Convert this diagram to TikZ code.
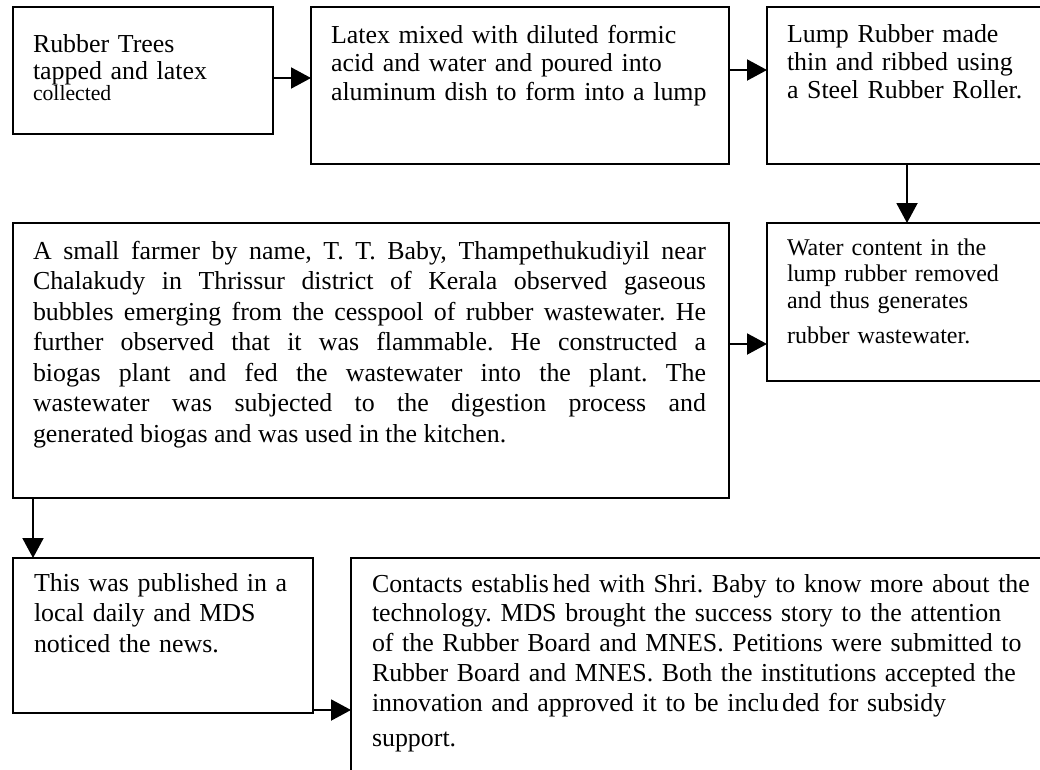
\documentclass[tikz,border=0pt]{standalone}
\usepackage{fontspec}
\setmainfont{Liberation Serif}
\usetikzlibrary{arrows.meta}
\begin{document}
\begin{tikzpicture}[x=1pt,y=-1pt,
  box/.style={draw,line width=2pt,inner sep=0pt,outer sep=0pt,anchor=north west},
  txt/.style={inner sep=0pt,outer sep=0pt,anchor=base west,align=left},
  arr/.style={line width=2pt,-{Triangle[length=20pt,width=21pt]}}]
\path[use as bounding box, clip] (0,0) rectangle (1040,769);
\fill[white] (0,0) rectangle (1040,769);
% boxes
\node[box,minimum width=260pt,minimum height=127pt] (b1) at (13,7) {};
\node[box,minimum width=418pt,minimum height=157pt] (b2) at (311,7) {};
\node[box,minimum width=293pt,minimum height=157pt] (b3) at (767,7) {};
\node[box,minimum width=293pt,minimum height=158pt] (b4) at (767,223) {};
\node[box,minimum width=716pt,minimum height=275pt] (b5) at (13,223) {};
\node[box,minimum width=300pt,minimum height=155pt] (b6) at (13,558) {};
\node[box,minimum width=709pt,minimum height=242pt] (b7) at (351,558) {};
% texts
\node[txt,text width=240pt,font=\fontsize{25.9}{27}\selectfont] (t1) at (33,52)
  {Rubber Trees\\tapped and latex\\[-6pt]{\fontsize{21.7}{21}\selectfont collected}};
\node[txt,text width=400pt,font=\fontsize{25.9}{28.5}\selectfont] (t2) at (331,43)
  {Latex mixed with diluted formic\\acid and water and poured into\\aluminum dish to form into a lump};
\node[txt,text width=260pt,font=\fontsize{25.9}{28}\selectfont] (t3) at (787,42)
  {Lump Rubber made\\thin and ribbed using\\a Steel Rubber Roller.};
\node[txt,text width=260pt,font=\fontsize{24}{26.5}\selectfont] (t4) at (787,255)
  {Water content in the\\lump rubber removed\\and thus generates\\[8.5pt]rubber wastewater.};
\node[txt,text width=673pt,align=justify,font=\fontsize{25.9}{30.5}\selectfont\frenchspacing] (t5) at (33,259)
  {A small farmer by name, T. T. Baby, Thampethukudiyil near\linebreak
   Chalakudy in Thrissur district of Kerala observed gaseous\linebreak
   bubbles emerging from the cesspool of rubber wastewater. He\linebreak
   further observed that it was flammable. He constructed a\linebreak
   biogas plant and fed the wastewater into the plant. The\linebreak
   wastewater was subjected to the digestion process and\linebreak
   generated biogas and was used in the kitchen.};
\node[txt,text width=280pt,font=\fontsize{25.9}{30.5}\selectfont] (t6) at (34,591)
  {This was published in a\\local daily and MDS\\noticed the news.};
\node[txt,text width=680pt,font=\fontsize{25.9}{29.8}\selectfont\frenchspacing] (t7) at (372,592)
  {Contacts establis\kern4pt hed with Shri. Baby to know more about the\\
   technology. MDS brought the success story to the attention\\
   of the Rubber Board and MNES. Petitions were submitted to\\
   Rubber Board and MNES. Both the institutions accepted the\\
   innovation and approved it to be inclu\kern3pt ded for subsidy\\[5pt]
   support.};
% connectors
\coordinate (p1) at (0,78);
\coordinate (p2) at (0,70);
\coordinate (p3) at (907,0);
\coordinate (p4) at (0,344);
\coordinate (p5) at (33,0);
\coordinate (p6) at (0,710);
\draw[arr] (b1.east |- p1) -- (b2.west |- p1);
\draw[arr] (b2.east |- p2) -- (b3.west |- p2);
\draw[arr] (b3.south -| p3) -- (b4.north -| p3);
\draw[arr] (b5.east |- p4) -- (b4.west |- p4);
\draw[arr] (b5.south -| p5) -- (b6.north -| p5);
\draw[arr] (b6.east |- p6) -- (b7.west |- p6);
\end{tikzpicture}
\end{document}
